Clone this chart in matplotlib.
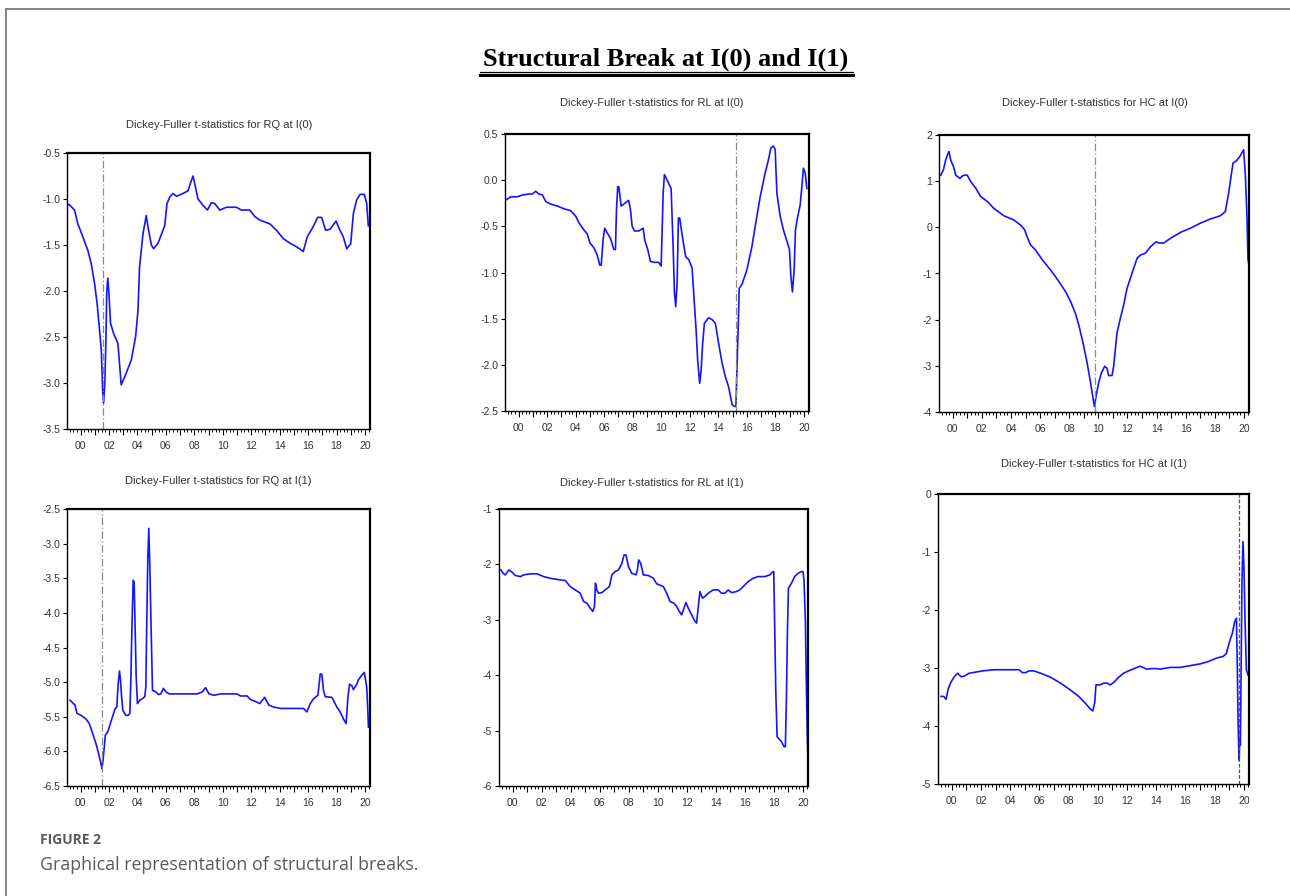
import matplotlib
matplotlib.use("Agg")
import matplotlib.pyplot as plt
from matplotlib.ticker import MultipleLocator, FuncFormatter, FormatStrFormatter
from matplotlib.lines import Line2D

W, H = 1290, 896
BLUE, GREY, TXT = "#1414ff", "#8a8a8a", "#333333"
NARROW = ["Liberation Sans Narrow", "Liberation Sans", "DejaVu Sans"]
XLIM = (1999.05, 2020.35)

# ---- RQ at I(0)
rq0_year = [1999.06, 1999.2, 1999.58, 1999.81, 2000.16, 2000.52, 2000.75, 2000.99, 2001.17, 2001.34,
            2001.46, 2001.50, 2001.55, 2001.62, 2001.71, 2001.78, 2001.85, 2001.92, 2002.0, 2002.11,
            2002.32, 2002.63, 2002.86, 2003.17, 2003.57, 2003.87, 2004.04, 2004.15, 2004.39, 2004.62,
            2004.74, 2004.98, 2005.14, 2005.45, 2005.92, 2006.08, 2006.27, 2006.50, 2006.74, 2007.21,
            2007.56, 2007.72, 2007.91, 2008.08, 2008.26, 2008.62, 2008.92, 2009.20, 2009.44, 2009.79,
            2010.26, 2010.96, 2011.31, 2011.90, 2012.25, 2012.61, 2013.31, 2013.78, 2014.25, 2014.72,
            2015.19, 2015.66, 2015.94, 2016.36, 2016.67, 2016.95, 2017.23, 2017.54, 2017.96, 2018.24,
            2018.47, 2018.71, 2018.99, 2019.18, 2019.41, 2019.65, 2019.95, 2020.12, 2020.23]
rq0_t = [-1.06, -1.06, -1.12, -1.27, -1.41, -1.56, -1.70, -1.92, -2.14, -2.43,
         -2.64, -2.82, -3.06, -3.22, -3.00, -2.57, -1.99, -1.86, -2.03, -2.35,
         -2.46, -2.57, -3.02, -2.91, -2.75, -2.50, -2.21, -1.74, -1.38, -1.18,
         -1.30, -1.50, -1.54, -1.48, -1.29, -1.05, -0.98, -0.94, -0.97, -0.94,
         -0.91, -0.83, -0.75, -0.87, -1.00, -1.07, -1.12, -1.04, -1.05, -1.12,
         -1.09, -1.09, -1.12, -1.12, -1.19, -1.23, -1.27, -1.34, -1.43, -1.48,
         -1.52, -1.57, -1.41, -1.30, -1.20, -1.20, -1.34, -1.33, -1.24, -1.34,
         -1.41, -1.54, -1.49, -1.16, -1.01, -0.95, -0.95, -1.05, -1.29]

# ---- RL at I(0)
rl0_year = [1999.17, 1999.45, 1999.92, 2000.27, 2000.73, 2000.97, 2001.20, 2001.43, 2001.67, 2001.90,
            2002.25, 2002.72, 2003.18, 2003.65, 2004.00, 2004.23, 2004.58, 2004.81, 2005.00, 2005.27,
            2005.51, 2005.69, 2005.79, 2005.93, 2006.04, 2006.21, 2006.44, 2006.67, 2006.79, 2006.86,
            2006.95, 2007.02, 2007.19, 2007.37, 2007.61, 2007.72, 2007.84, 2007.96, 2008.12, 2008.42,
            2008.73, 2008.84, 2009.05, 2009.24, 2009.52, 2009.82, 2009.99, 2010.06, 2010.13, 2010.22,
            2010.41, 2010.69, 2010.83, 2010.92, 2011.01, 2011.11, 2011.20, 2011.29, 2011.46, 2011.57,
            2011.71, 2011.92, 2012.16, 2012.27, 2012.44, 2012.55, 2012.69, 2012.79, 2012.90, 2013.02,
            2013.32, 2013.56, 2013.79, 2014.02, 2014.26, 2014.49, 2014.72, 2014.96, 2015.12, 2015.23,
            2015.30, 2015.39, 2015.46, 2015.65, 2016.00, 2016.35, 2016.58, 2016.93, 2017.28, 2017.51,
            2017.68, 2017.86, 2017.98, 2018.10, 2018.33, 2018.56, 2018.80, 2018.98, 2019.08, 2019.19,
            2019.31, 2019.40, 2019.54, 2019.73, 2019.85, 2019.96, 2020.08, 2020.20]
rl0_t = [-0.21, -0.18, -0.18, -0.16, -0.15, -0.15, -0.12, -0.15, -0.16, -0.23,
         -0.26, -0.28, -0.31, -0.33, -0.39, -0.46, -0.54, -0.58, -0.68, -0.73,
         -0.81, -0.92, -0.92, -0.63, -0.52, -0.57, -0.63, -0.75, -0.75, -0.32,
         -0.07, -0.07, -0.28, -0.26, -0.23, -0.22, -0.32, -0.50, -0.55, -0.55,
         -0.52, -0.65, -0.75, -0.88, -0.89, -0.89, -0.93, -0.55, -0.14, 0.06,
         0.00, -0.09, -0.72, -1.21, -1.37, -1.11, -0.41, -0.41, -0.59, -0.70,
         -0.83, -0.86, -0.95, -1.22, -1.62, -1.95, -2.20, -2.06, -1.77, -1.55,
         -1.49, -1.51, -1.55, -1.77, -1.98, -2.13, -2.24, -2.43, -2.45, -2.45,
         -2.06, -1.59, -1.17, -1.13, -0.97, -0.72, -0.50, -0.18, 0.08, 0.22,
         0.35, 0.37, 0.33, -0.14, -0.39, -0.54, -0.66, -0.75, -1.04, -1.21,
         -0.97, -0.54, -0.41, -0.27, -0.07, 0.13, 0.08, -0.09]

# ---- HC at I(0)
hc0_year = [1999.17, 1999.35, 1999.51, 1999.67, 1999.74, 1999.85, 2000.04, 2000.20, 2000.49, 2000.61,
            2000.77, 2000.99, 2001.23, 2001.57, 2001.91, 2002.37, 2002.82, 2003.51, 2004.19, 2004.65,
            2004.93, 2005.15, 2005.34, 2005.68, 2006.14, 2006.71, 2007.28, 2007.74, 2008.08, 2008.42,
            2008.65, 2008.95, 2009.23, 2009.45, 2009.61, 2009.73, 2009.84, 2010.02, 2010.20, 2010.43,
            2010.59, 2010.71, 2010.94, 2011.05, 2011.28, 2011.51, 2011.74, 2011.97, 2012.32, 2012.66,
            2012.89, 2013.23, 2013.58, 2013.99, 2014.15, 2014.49, 2014.95, 2015.64, 2016.32, 2017.01,
            2017.69, 2018.38, 2018.72, 2018.95, 2019.25, 2019.48, 2019.71, 2019.98, 2020.10, 2020.21,
            2020.28, 2020.35]
hc0_t = [1.13, 1.24, 1.46, 1.60, 1.64, 1.46, 1.32, 1.13, 1.06, 1.10,
         1.13, 1.13, 0.99, 0.85, 0.67, 0.56, 0.41, 0.25, 0.16, 0.05,
         -0.05, -0.24, -0.38, -0.49, -0.70, -0.92, -1.17, -1.39, -1.60, -1.86,
         -2.11, -2.51, -2.94, -3.34, -3.66, -3.88, -3.66, -3.37, -3.16, -3.01,
         -3.05, -3.21, -3.21, -3.01, -2.29, -1.97, -1.68, -1.32, -0.99, -0.67,
         -0.60, -0.56, -0.42, -0.31, -0.34, -0.34, -0.24, -0.11, -0.02, 0.09,
         0.18, 0.25, 0.34, 0.74, 1.39, 1.44, 1.53, 1.68, 1.13, 0.23,
         -0.70, -0.81]

# ---- RQ at I(1)
rq1_year = [1999.26, 1999.45, 1999.61, 1999.75, 2000.03, 2000.38, 2000.62, 2000.85, 2001.09, 2001.27,
            2001.44, 2001.51, 2001.58, 2001.67, 2001.74, 2001.95, 2002.09, 2002.25, 2002.44, 2002.56,
            2002.60, 2002.67, 2002.74, 2002.81, 2002.88, 2002.98, 2003.19, 2003.35, 2003.47, 2003.54,
            2003.61, 2003.70, 2003.77, 2003.84, 2003.91, 2004.00, 2004.17, 2004.35, 2004.52, 2004.59,
            2004.66, 2004.73, 2004.80, 2004.87, 2004.96, 2005.06, 2005.29, 2005.48, 2005.64, 2005.83,
            2006.00, 2006.23, 2007.51, 2008.21, 2008.56, 2008.79, 2009.03, 2009.38, 2009.84, 2011.01,
            2011.24, 2011.71, 2011.94, 2012.41, 2012.60, 2012.95, 2013.23, 2013.58, 2014.05, 2014.51,
            2015.68, 2015.91, 2016.15, 2016.38, 2016.69, 2016.85, 2016.97, 2017.08, 2017.20, 2017.67,
            2018.02, 2018.25, 2018.48, 2018.67, 2018.79, 2018.91, 2019.07, 2019.18, 2019.42, 2019.53,
            2019.77, 2019.95, 2020.12, 2020.19, 2020.24]
rq1_t = [-5.26, -5.30, -5.33, -5.45, -5.48, -5.53, -5.60, -5.74, -5.89, -6.03,
         -6.18, -6.25, -6.13, -5.94, -5.77, -5.70, -5.60, -5.50, -5.38, -5.36,
         -5.17, -4.97, -4.84, -4.97, -5.19, -5.41, -5.48, -5.48, -5.45, -4.95,
         -4.25, -3.53, -3.55, -4.21, -4.90, -5.31, -5.26, -5.24, -5.21, -5.07,
         -4.10, -3.21, -2.78, -3.30, -4.20, -5.12, -5.14, -5.18, -5.17, -5.09,
         -5.14, -5.17, -5.17, -5.17, -5.14, -5.08, -5.17, -5.19, -5.17, -5.17,
         -5.20, -5.20, -5.25, -5.29, -5.31, -5.22, -5.33, -5.36, -5.38, -5.38,
         -5.38, -5.43, -5.31, -5.24, -5.19, -4.88, -4.89, -5.12, -5.21, -5.22,
         -5.36, -5.43, -5.53, -5.60, -5.24, -5.03, -5.05, -5.11, -5.03, -4.97,
         -4.90, -4.86, -5.07, -5.38, -5.65]

# ---- RL at I(1)
rl1_year = [1999.19, 1999.33, 1999.49, 1999.72, 1999.95, 2000.18, 2000.52, 2000.75, 2001.21, 2001.67,
            2002.13, 2002.58, 2003.27, 2003.62, 2003.96, 2004.30, 2004.65, 2004.88, 2005.11, 2005.34,
            2005.52, 2005.63, 2005.70, 2005.79, 2005.91, 2006.14, 2006.37, 2006.66, 2006.83, 2007.05,
            2007.28, 2007.51, 2007.67, 2007.81, 2007.97, 2008.20, 2008.50, 2008.59, 2008.68, 2008.82,
            2009.00, 2009.35, 2009.69, 2009.92, 2010.38, 2010.61, 2010.84, 2011.11, 2011.30, 2011.48,
            2011.64, 2011.80, 2011.94, 2012.10, 2012.33, 2012.56, 2012.67, 2012.79, 2012.90, 2013.08,
            2013.24, 2013.47, 2013.82, 2014.16, 2014.39, 2014.62, 2014.85, 2015.08, 2015.42, 2015.65,
            2015.88, 2016.23, 2016.57, 2016.91, 2017.37, 2017.72, 2017.90, 2017.99, 2018.06, 2018.13,
            2018.22, 2018.52, 2018.70, 2018.79, 2018.86, 2018.93, 2019.00, 2019.21, 2019.43, 2019.66,
            2019.89, 2020.01, 2020.08, 2020.17, 2020.24, 2020.31, 2020.35]
rl1_t = [-2.10, -2.16, -2.19, -2.10, -2.14, -2.20, -2.22, -2.19, -2.17, -2.17,
         -2.22, -2.25, -2.28, -2.29, -2.40, -2.46, -2.52, -2.67, -2.70, -2.79,
         -2.85, -2.76, -2.34, -2.46, -2.52, -2.51, -2.46, -2.40, -2.19, -2.13,
         -2.10, -1.99, -1.83, -1.83, -2.04, -2.16, -2.19, -2.10, -1.92, -1.98,
         -2.19, -2.20, -2.25, -2.35, -2.40, -2.52, -2.67, -2.70, -2.76, -2.85,
         -2.91, -2.79, -2.69, -2.79, -2.91, -3.03, -3.06, -2.76, -2.49, -2.61,
         -2.58, -2.52, -2.46, -2.46, -2.52, -2.52, -2.46, -2.51, -2.49, -2.46,
         -2.40, -2.31, -2.25, -2.22, -2.22, -2.19, -2.14, -2.13, -3.21, -4.30,
         -5.11, -5.20, -5.29, -5.29, -4.45, -3.24, -2.43, -2.34, -2.22, -2.16,
         -2.13, -2.13, -2.31, -3.03, -4.23, -5.17, -5.53]

# ---- HC at I(1)
hc1_year = [1999.26, 1999.44, 1999.60, 1999.76, 1999.94, 2000.17, 2000.40, 2000.62, 2000.85, 2001.19,
            2001.65, 2002.10, 2002.90, 2004.03, 2004.60, 2004.83, 2005.05, 2005.28, 2005.62, 2006.08,
            2006.76, 2007.44, 2008.12, 2008.69, 2009.15, 2009.49, 2009.65, 2009.78, 2009.87, 2010.17,
            2010.40, 2010.62, 2010.85, 2011.08, 2011.42, 2011.76, 2012.10, 2012.49, 2012.90, 2013.08,
            2013.35, 2013.69, 2013.99, 2014.26, 2014.94, 2015.62, 2016.31, 2016.99, 2017.55, 2018.12,
            2018.58, 2018.80, 2018.99, 2019.21, 2019.37, 2019.49, 2019.55, 2019.60, 2019.67, 2019.71,
            2019.76, 2019.83, 2019.87, 2019.94, 2020.01, 2020.08, 2020.17, 2020.28]
hc1_t = [-3.49, -3.49, -3.54, -3.35, -3.24, -3.15, -3.09, -3.15, -3.14, -3.09,
         -3.07, -3.05, -3.03, -3.03, -3.03, -3.08, -3.08, -3.05, -3.05, -3.09,
         -3.16, -3.26, -3.38, -3.49, -3.61, -3.71, -3.74, -3.61, -3.29, -3.29,
         -3.26, -3.26, -3.29, -3.25, -3.16, -3.09, -3.05, -3.01, -2.97, -2.99,
         -3.02, -3.01, -3.01, -3.02, -2.99, -2.99, -2.96, -2.93, -2.89, -2.83,
         -2.80, -2.75, -2.57, -2.40, -2.20, -2.14, -2.98, -3.90, -4.59, -4.24,
         -4.33, -2.52, -1.48, -0.82, -1.31, -2.20, -3.03, -3.12]

# break dates picked by the test
BREAKS = {"rq0": 2001.60, "rl0": 2015.23, "hc0": 2009.77,
          "rq1": 2001.51, "rl1": 2020.32, "hc1": 2019.67}

# (key, x, y, title, ylim, ystep, fmt, axes box in px: left, top, right, bottom, title centre)
PANELS = [
    ("rq0", rq0_year, rq0_t, "Dickey-Fuller t-statistics for RQ at I(0)", (-3.5, -0.5), 0.5, "%.1f",
     (67, 153, 370, 429), (219, 125)),
    ("rl0", rl0_year, rl0_t, "Dickey-Fuller t-statistics for RL at I(0)", (-2.5, 0.5), 0.5, "%.1f",
     (505, 134, 809, 411), (652, 103)),
    ("hc0", hc0_year, hc0_t, "Dickey-Fuller t-statistics for HC at I(0)", (-4, 2), 1, "%d",
     (939, 135, 1249, 412), (1095, 103)),
    ("rq1", rq1_year, rq1_t, "Dickey-Fuller t-statistics for RQ at I(1)", (-6.5, -2.5), 0.5, "%.1f",
     (67, 509, 370, 786), (218, 481)),
    ("rl1", rl1_year, rl1_t, "Dickey-Fuller t-statistics for RL at I(1)", (-6, -1), 1, "%d",
     (499, 509, 808, 786), (652, 483)),
    ("hc1", hc1_year, hc1_t, "Dickey-Fuller t-statistics for HC at I(1)", (-5, 0), 1, "%d",
     (938, 494, 1249, 784), (1094, 464)),
]

def year_label(v, pos):
    y = int(round(v))
    return f"{y % 100:02d}" if y % 2 == 0 else ""

fig = plt.figure(figsize=(W / 100, H / 100), dpi=100)

# page frame (top and left edges only)
fig.add_artist(Line2D([6 / W, 1], [1 - 9 / H, 1 - 9 / H], color="#7a7a7a", lw=1.3))
fig.add_artist(Line2D([6 / W, 6 / W], [0, 1 - 9 / H], color="#7a7a7a", lw=1.3))

for key, xs, ys, title, ylim, ystep, fmt, (l, t, r, b), (tx, ty) in PANELS:
    ax = fig.add_axes([l / W, 1 - b / H, (r - l) / W, (b - t) / H])
    ax.plot(xs, ys, color=BLUE, lw=1.2)
    ls = (0, (6, 2, 1, 2)) if key != "hc1" else (0, (3, 1.5))
    ax.axvline(BREAKS[key], color=GREY if key != "hc1" else "#555555", lw=0.9, ls=ls)
    ax.set_xlim(*XLIM)
    ax.set_ylim(*ylim)
    ax.yaxis.set_major_locator(MultipleLocator(ystep))
    ax.yaxis.set_major_formatter(FormatStrFormatter(fmt))
    ax.xaxis.set_major_locator(MultipleLocator(1))
    ax.xaxis.set_minor_locator(MultipleLocator(0.25))
    ax.xaxis.set_major_formatter(FuncFormatter(year_label))
    ax.tick_params(axis="x", which="major", length=4.5, width=0.8, direction="out", pad=4)
    ax.tick_params(axis="x", which="minor", length=2.2, width=0.7, direction="out")
    ax.tick_params(axis="y", length=3, width=0.8, direction="out", pad=2)
    for lab in ax.get_xticklabels() + ax.get_yticklabels():
        lab.set_family(NARROW)
        lab.set_fontsize(7.5)
        lab.set_color(TXT)
    for side, sp in ax.spines.items():
        sp.set_color("black")
        sp.set_linewidth(1.6 if side in ("top", "right") else 1.0)
    fig.text(tx / W, 1 - ty / H, title, ha="center", va="center",
             family=NARROW, fontsize=8, color=TXT)

# main heading with double underline
fig.text(666 / W, 1 - 59 / H, "Structural Break at I(0) and I(1)", ha="center", va="center",
         family=["Liberation Serif", "DejaVu Serif"], fontweight="bold", fontsize=19, color="black")
fig.add_artist(Line2D([480 / W, 853 / W], [1 - 72 / H] * 2, color="black", lw=0.9))
fig.add_artist(Line2D([480 / W, 853 / W], [1 - 75.5 / H] * 2, color="black", lw=2.2))

# caption
fig.text(40 / W, 1 - 840 / H, "FIGURE 2", ha="left", va="center",
         family=["Open Sans", "DejaVu Sans"], fontweight="bold", fontsize=10, color="#5a5a5a")
fig.text(40 / W, 1 - 865 / H, "Graphical representation of structural breaks.", ha="left",
         va="center", family=["Open Sans", "DejaVu Sans"], fontsize=12.8, color="#5a5a5a")

fig.savefig("out.png", dpi=100)
